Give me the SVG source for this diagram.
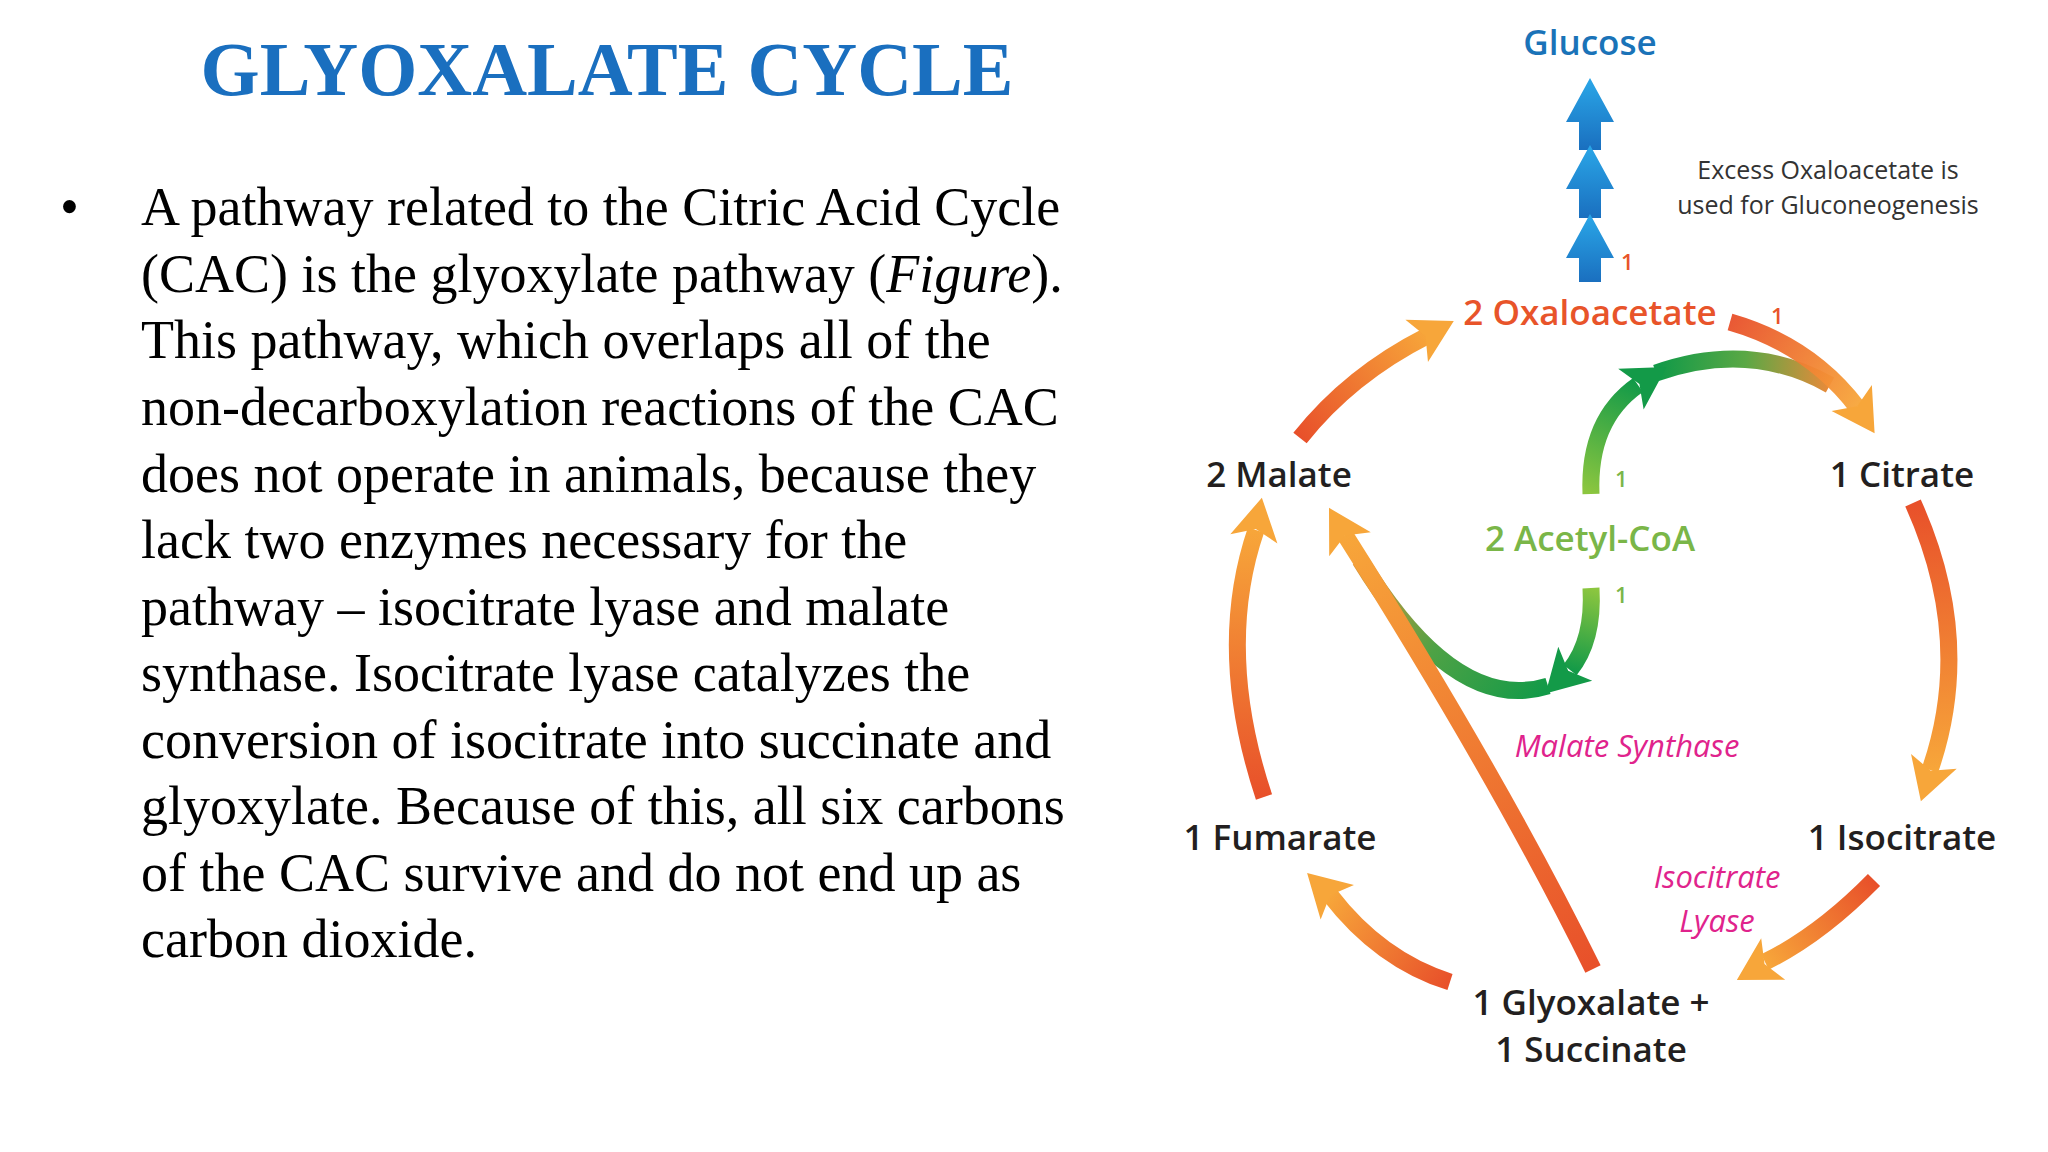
<svg xmlns="http://www.w3.org/2000/svg" xmlns:xlink="http://www.w3.org/1999/xlink" width="2048" height="1152" viewBox="0 0 2048 1152">
<style>
.title{font-family:"Liberation Serif",serif;font-weight:bold;font-size:76px;fill:#1a6fbf}
.body{font-family:"Liberation Serif",serif;font-size:54px;fill:#000}
.lab{font-family:"Open Sans",sans-serif;font-weight:600;font-size:35px;fill:#231f20;text-anchor:middle}
.num{font-family:"Open Sans",sans-serif;font-weight:600;font-size:22px}
.enz{font-family:"Open Sans",sans-serif;font-style:italic;font-size:31px;fill:#e0238c;text-anchor:middle}
.note{font-family:"Open Sans",sans-serif;font-size:25px;fill:#333;text-anchor:middle}
.arr{fill:none;stroke-width:17}
.head{fill:#f7a63a}
</style>
<defs>
<path id="ah" d="M-6,-24 L36,0 L-6,24 L4,0 Z"/>
<linearGradient id="g1" gradientUnits="userSpaceOnUse" x1="1300" y1="438" x2="1430" y2="336"><stop offset="0" stop-color="#e8502a"/><stop offset="1" stop-color="#f7a63a"/></linearGradient>
<linearGradient id="g2" gradientUnits="userSpaceOnUse" x1="1730" y1="322" x2="1857" y2="407"><stop offset="0" stop-color="#e8502a"/><stop offset="1" stop-color="#f7a63a"/></linearGradient>
<linearGradient id="g3" gradientUnits="userSpaceOnUse" x1="1913" y1="503" x2="1930" y2="770"><stop offset="0" stop-color="#e8502a"/><stop offset="1" stop-color="#f7a63a"/></linearGradient>
<linearGradient id="g4" gradientUnits="userSpaceOnUse" x1="1874" y1="880" x2="1765" y2="962"><stop offset="0" stop-color="#e8502a"/><stop offset="1" stop-color="#f7a63a"/></linearGradient>
<linearGradient id="g5" gradientUnits="userSpaceOnUse" x1="1450" y1="982" x2="1330" y2="895"><stop offset="0" stop-color="#e8502a"/><stop offset="1" stop-color="#f7a63a"/></linearGradient>
<linearGradient id="g6" gradientUnits="userSpaceOnUse" x1="1264" y1="797" x2="1256" y2="530"><stop offset="0" stop-color="#e8502a"/><stop offset="1" stop-color="#f7a63a"/></linearGradient>
<linearGradient id="g7" gradientUnits="userSpaceOnUse" x1="1593" y1="969" x2="1345" y2="535"><stop offset="0" stop-color="#e8502a"/><stop offset="1" stop-color="#f7a63a"/></linearGradient>
<linearGradient id="g8" gradientUnits="userSpaceOnUse" x1="1591" y1="494" x2="1640" y2="385"><stop offset="0" stop-color="#8cc63f"/><stop offset="1" stop-color="#139a48"/></linearGradient>
<linearGradient id="g9" gradientUnits="userSpaceOnUse" x1="1660" y1="372" x2="1830" y2="380"><stop offset="0" stop-color="#139a48"/><stop offset="0.5" stop-color="#5aa845"/><stop offset="1" stop-color="#e98a3a"/></linearGradient>
<linearGradient id="g10" gradientUnits="userSpaceOnUse" x1="1591" y1="588" x2="1570" y2="670"><stop offset="0" stop-color="#8cc63f"/><stop offset="1" stop-color="#139a48"/></linearGradient>
<linearGradient id="g11" gradientUnits="userSpaceOnUse" x1="1548" y1="686" x2="1360" y2="555"><stop offset="0" stop-color="#139a48"/><stop offset="0.5" stop-color="#4ea245"/><stop offset="1" stop-color="#e0953c"/></linearGradient>
<linearGradient id="gb" x1="0" y1="0" x2="0" y2="1"><stop offset="0" stop-color="#2aa7e8"/><stop offset="1" stop-color="#1a6fbf"/></linearGradient>
</defs>

<g id="title"><text class="title" x="607" y="95" text-anchor="middle">GLYOXALATE CYCLE</text></g>
<g id="bodytext">
<text class="body" x="60" y="225">•</text>
<text class="body" x="141" y="225">A pathway related to the Citric Acid Cycle</text>
<text class="body" x="141" y="292">(CAC) is the glyoxylate pathway (<tspan font-style="italic">Figure</tspan>).</text>
<text class="body" x="141" y="358">This pathway, which overlaps all of the</text>
<text class="body" x="141" y="425">non-decarboxylation reactions of the CAC</text>
<text class="body" x="141" y="492">does not operate in animals, because they</text>
<text class="body" x="141" y="558">lack two enzymes necessary for the</text>
<text class="body" x="141" y="625">pathway – isocitrate lyase and malate</text>
<text class="body" x="141" y="691">synthase. Isocitrate lyase catalyzes the</text>
<text class="body" x="141" y="758">conversion of isocitrate into succinate and</text>
<text class="body" x="141" y="824">glyoxylate. Because of this, all six carbons</text>
<text class="body" x="141" y="891">of the CAC survive and do not end up as</text>
<text class="body" x="141" y="957">carbon dioxide.</text>
</g>

<g id="connectors">
<path class="arr" stroke="url(#g1)" d="M1300,438 Q1350,375 1427,336"/>
<use xlink:href="#ah" class="head" transform="translate(1422,338) rotate(-28)"/>
<path class="arr" stroke="url(#g9)" d="M1656,373 Q1750,340 1830,385"/>
<path class="arr" stroke="url(#g2)" d="M1730,322 Q1810,345 1857,407" stroke-opacity="0.95"/>
<use xlink:href="#ah" class="head" transform="translate(1855,403) rotate(57)"/>
<path class="arr" stroke="url(#g3)" d="M1913,503 Q1975,640 1930,770"/>
<use xlink:href="#ah" class="head" transform="translate(1932,767) rotate(108)"/>
<path class="arr" stroke="url(#g4)" d="M1874,880 Q1820,935 1765,962"/>
<use xlink:href="#ah" class="head" transform="translate(1768,962) rotate(150)"/>
<path class="arr" stroke="url(#g5)" d="M1450,982 Q1380,960 1330,895"/>
<use xlink:href="#ah" class="head" transform="translate(1333,898) rotate(-136)"/>
<path class="arr" stroke="url(#g6)" d="M1264,797 Q1215,650 1256,530"/>
<use xlink:href="#ah" class="head" transform="translate(1255,533) rotate(-79)"/>
<path class="arr" stroke="url(#g11)" d="M1548,686 Q1455,715 1360,560"/>
<path class="arr" stroke="url(#g7)" d="M1593,969 Q1500,780 1345,535"/>
<use xlink:href="#ah" class="head" transform="translate(1347,539) rotate(-120)"/>
<path class="arr" stroke="url(#g8)" d="M1591,494 Q1588,420 1638,385"/>
<use xlink:href="#ah" fill="#139a48" transform="translate(1636,386) rotate(-32)"/>
<path class="arr" stroke="url(#g10)" d="M1591,588 Q1594,640 1570,670"/>
<use xlink:href="#ah" fill="#139a48" transform="translate(1571,668) rotate(135)"/>
<g fill="url(#gb)">
<path d="M1590,78 L1614,122 L1601,122 L1601,150 L1579,150 L1579,122 L1566,122 Z"/>
<path d="M1590,145 L1614,189 L1601,189 L1601,218 L1579,218 L1579,189 L1566,189 Z"/>
<path d="M1590,214 L1614,258 L1601,258 L1601,282 L1579,282 L1579,258 L1566,258 Z"/>
</g>
</g>

<g id="n-glucose"><text class="lab" x="1590" y="55" style="fill:#1a73b8">Glucose</text></g>
<g id="n-note"><text class="note" x="1828" y="179">Excess Oxaloacetate is</text><text class="note" x="1828" y="214">used for Gluconeogenesis</text></g>
<g id="n-oxalo"><text class="lab" x="1590" y="325" style="fill:#e8542a">2 Oxaloacetate</text>
<text class="num" x="1621" y="270" fill="#e8542a">1</text><text class="num" x="1771" y="324" fill="#e8542a">1</text></g>
<g id="n-malate"><text class="lab" x="1279" y="487">2  Malate</text></g>
<g id="n-citrate"><text class="lab" x="1902" y="487">1  Citrate</text></g>
<g id="n-acetyl"><text class="lab" x="1590" y="551" style="fill:#7ab648">2 Acetyl-CoA</text>
<text class="num" x="1615" y="487" fill="#7ab648">1</text><text class="num" x="1615" y="603" fill="#7ab648">1</text></g>
<g id="n-ms"><text class="enz" x="1627" y="757">Malate Synthase</text></g>
<g id="n-fumarate"><text class="lab" x="1280" y="850">1  Fumarate</text></g>
<g id="n-isocitrate"><text class="lab" x="1902" y="850">1  Isocitrate</text></g>
<g id="n-il"><text class="enz" x="1717" y="888">Isocitrate</text><text class="enz" x="1717" y="932">Lyase</text></g>
<g id="n-glyox"><text class="lab" x="1591" y="1015">1  Glyoxalate +</text><text class="lab" x="1591" y="1062">1  Succinate</text></g>
</svg>
